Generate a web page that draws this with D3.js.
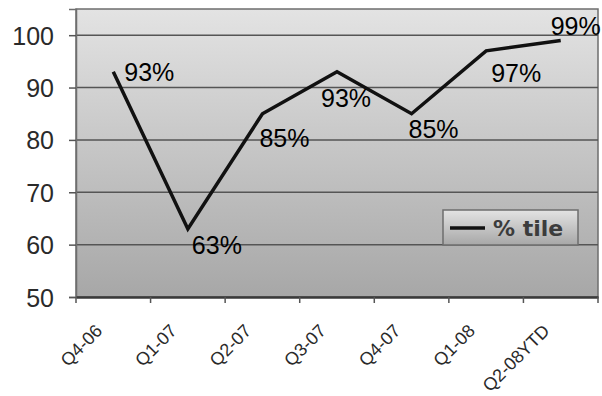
<!DOCTYPE html>
<html>
<head>
<meta charset="utf-8">
<script src="https://cdn.jsdelivr.net/npm/d3@7"></script>
<style>
  html, body { margin: 0; padding: 0; background: #fff; }
  svg { display: block; }
</style>
</head>
<body>
<svg id="chart" width="602" height="396"></svg>
<script>
// ---- data ----
const categories = ["Q4-06", "Q1-07", "Q2-07", "Q3-07", "Q4-07", "Q1-08", "Q2-08YTD"];
const values = [93, 63, 85, 93, 85, 97, 99];
const dataLabels = ["93%", "63%", "85%", "93%", "85%", "97%", "99%"];
const yTicks = [50, 60, 70, 80, 90, 100];
const seriesName = "% tile";

// ---- layout ----
const W = 602, H = 396;
const plot = { left: 76, right: 598, top: 9, bottom: 297 };
// label placement relative to each point (text left, baseline)
const labelOffsets = [[11, 9], [4, 25], [-3, 33], [-16, 35], [-3, 24], [5, 31], [-10, -5]];

const svg = d3.select("#chart");
const x = d3.scaleBand().domain(categories).range([plot.left, plot.right]).padding(0);
const y = d3.scaleLinear().domain([50, 105]).range([plot.bottom, plot.top]);

const defs = svg.append("defs");
const grad = defs.append("linearGradient").attr("id", "bg").attr("x1", 0).attr("y1", 0).attr("x2", 0).attr("y2", 1);
grad.append("stop").attr("offset", "0%").attr("stop-color", "#e3e3e3");
grad.append("stop").attr("offset", "100%").attr("stop-color", "#a7a7a7");

// plot background
svg.append("rect")
  .attr("x", plot.left).attr("y", plot.top)
  .attr("width", plot.right - plot.left).attr("height", plot.bottom - plot.top)
  .attr("fill", "url(#bg)").attr("stroke", "#6e6e6e").attr("stroke-width", 1.5);

// gridlines
svg.append("g").selectAll("line").data(yTicks.filter(d => d > 50)).join("line")
  .attr("x1", plot.left).attr("x2", plot.right)
  .attr("y1", d => y(d)).attr("y2", d => y(d))
  .attr("stroke", "#555").attr("stroke-width", 1.5);

// y axis
const yAxis = d3.axisLeft(y).tickValues(yTicks).tickSize(7).tickPadding(15).tickFormat(d3.format("d"));
const gy = svg.append("g").attr("transform", `translate(${plot.left},0)`).call(yAxis);
gy.select(".domain").attr("stroke", "#6e6e6e").attr("stroke-width", 1.5);
gy.selectAll(".tick line").attr("stroke", "#555").attr("stroke-width", 1.5);
gy.selectAll(".tick text")
  .attr("font-family", "'Liberation Sans', Arial, sans-serif")
  .attr("font-size", 25).attr("fill", "#2a2a2a").attr("dy", "0.36em");

// x axis
const xAxis = d3.axisBottom(x).tickSize(0).tickFormat("");
const gx = svg.append("g").attr("transform", `translate(0,${plot.bottom})`).call(xAxis);
gx.select(".domain").attr("stroke", "#3a3a3a").attr("stroke-width", 2.5);
// tick marks at category boundaries
const bounds = categories.map(c => x(c)).concat([x(categories[categories.length - 1]) + x.bandwidth()]);
gx.append("g").selectAll("line").data(bounds).join("line")
  .attr("x1", d => d).attr("x2", d => d).attr("y1", 0).attr("y2", 6)
  .attr("stroke", "#555").attr("stroke-width", 1.5);
// rotated labels
gx.append("g").selectAll("text").data(categories).join("text")
  .attr("transform", d => `translate(${x(d) + x.bandwidth() / 2 - 10},${35}) rotate(-45)`)
  .attr("text-anchor", "end")
  .attr("font-family", "'Liberation Sans', Arial, sans-serif")
  .attr("font-size", 18).attr("fill", "#2a2a2a")
  .text(d => d);

// line
const pts = categories.map((c, i) => ({ c, v: values[i], l: dataLabels[i], o: labelOffsets[i] }));
const line = d3.line().x(d => x(d.c) + x.bandwidth() / 2).y(d => y(d.v));
svg.append("path").datum(pts).attr("d", line)
  .attr("fill", "none").attr("stroke", "#111").attr("stroke-width", 3.5)
  .attr("stroke-linejoin", "miter").attr("stroke-linecap", "butt");

// data labels
svg.append("g").selectAll("text").data(pts).join("text")
  .attr("x", d => x(d.c) + x.bandwidth() / 2 + d.o[0])
  .attr("y", d => y(d.v) + d.o[1])
  .attr("font-family", "'Liberation Sans', Arial, sans-serif")
  .attr("font-size", 25).attr("fill", "#000")
  .text(d => d.l);

// legend
const lg = svg.append("g").attr("transform", "translate(443,210)");
lg.append("rect").attr("width", 135).attr("height", 35)
  .attr("fill", "url(#bg)").attr("stroke", "#6e6e6e").attr("stroke-width", 1.5);
lg.append("line").attr("x1", 7).attr("x2", 42).attr("y1", 18).attr("y2", 18)
  .attr("stroke", "#111").attr("stroke-width", 3.5);
lg.append("text").attr("x", 50).attr("y", 26)
  .attr("font-family", "'DejaVu Sans', Verdana, sans-serif").attr("font-weight", "bold")
  .attr("font-size", 22).attr("fill", "#3c3c3c")
  .text(seriesName);
</script>
</body>
</html>
